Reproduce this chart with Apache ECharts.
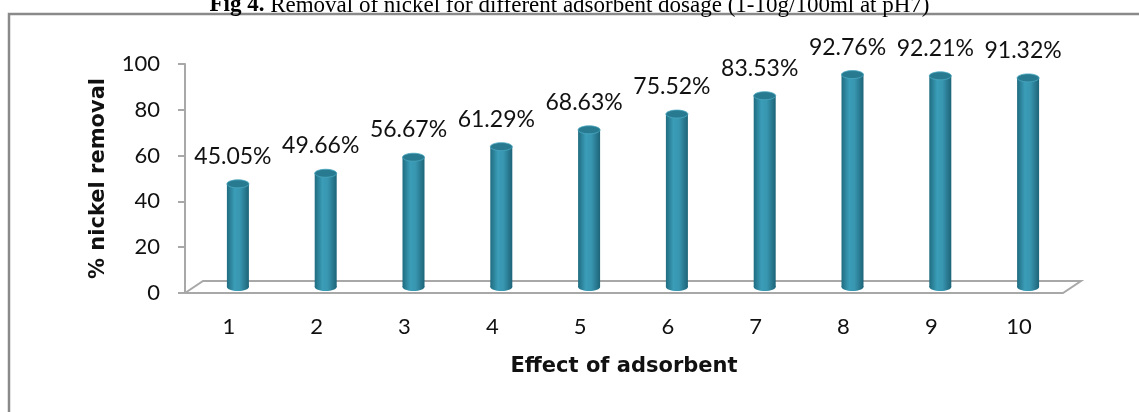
<!DOCTYPE html>
<html>
<head>
<meta charset="utf-8">
<script src="https://cdn.jsdelivr.net/npm/echarts@6/dist/echarts.min.js"></script>
<style>
  html, body { margin: 0; padding: 0; background: #fff; }
  #chart { width: 1139px; height: 412px; }
</style>
</head>
<body>
<div id="chart"></div>
<script>
// Adsorbent dosage steps (g/100 ml) and the nickel removed at each step
const dosages = ['1', '2', '3', '4', '5', '6', '7', '8', '9', '10'];
const removal = [45.05, 49.66, 56.67, 61.29, 68.63, 75.52, 83.53, 92.76, 92.21, 91.32];
const yTicks = [0, 20, 40, 60, 80, 100];

const FONT = 'Lato, "Open Sans", sans-serif';
const BOLD_FONT = '"DejaVu Sans", Lato, sans-serif';
const DEPTH_X = 18, DEPTH_Y = 12;   // floor depth of the pseudo-3D plot area
const BAR_W = 22;

const chart = echarts.init(document.getElementById('chart'));

// Cylinder drawn at mid-depth of the floor
function renderCylinder(params, api) {
  const x = api.value(0);
  const v = api.value(1);
  const base = api.coord([x, 0]);
  const top = api.coord([x, v]);
  const dx = DEPTH_X / 2, dy = -DEPTH_Y / 2;
  const cx = base[0] + dx;
  const yb = base[1] + dy;
  const yt = top[1] + dy;
  const rx = BAR_W / 2, ry = 4;
  const body = new echarts.graphic.LinearGradient(0, 0, 1, 0, [
    { offset: 0, color: '#1f6c80' },
    { offset: 0.35, color: '#3b9db8' },
    { offset: 0.6, color: '#3896b0' },
    { offset: 1, color: '#1d6478' }
  ]);
  return {
    type: 'group',
    children: [
      { type: 'ellipse', shape: { cx: cx, cy: yb, rx: rx, ry: ry }, style: { fill: body } },
      { type: 'rect', shape: { x: cx - rx, y: yt, width: BAR_W, height: yb - yt }, style: { fill: body } },
      { type: 'ellipse', shape: { cx: cx, cy: yt, rx: rx, ry: ry }, style: { fill: '#287a90', stroke: '#4aa9c2', lineWidth: 0.8 } },
      {
        type: 'text',
        style: {
          text: v.toFixed(2) + '%',
          x: base[0] + 4,
          y: yt - 16,
          textAlign: 'center',
          textVerticalAlign: 'bottom',
          font: '23px ' + FONT,
          fill: '#111'
        }
      }
    ]
  };
}

// Floor parallelogram under the bars
function renderFloor(params) {
  const cs = params.coordSys;
  const x0 = cs.x, y0 = cs.y + cs.height, w = cs.width;
  return {
    type: 'polygon',
    shape: {
      points: [
        [x0, y0],
        [x0 + DEPTH_X, y0 - DEPTH_Y],
        [x0 + w + DEPTH_X, y0 - DEPTH_Y],
        [x0 + w, y0]
      ]
    },
    style: { fill: '#fff', stroke: '#a8a8a8', lineWidth: 2 }
  };
}

chart.setOption({
  animation: false,
  backgroundColor: '#fff',
  title: {
    text: '{b|Fig 4.} Removal of nickel for different adsorbent dosage (1-10g/100ml at pH7)',
    left: 'center',
    top: -11,
    textStyle: {
      fontFamily: '"Liberation Serif", "Times New Roman", serif',
      fontSize: 23,
      fontWeight: 'normal',
      color: '#000',
      rich: {
        b: { fontFamily: '"Liberation Serif", serif', fontSize: 23, fontWeight: 'bold', color: '#000' }
      }
    }
  },
  graphic: [
    {
      type: 'rect',
      shape: { x: 9, y: 14, width: 1200, height: 500 },
      style: { fill: 'none', stroke: '#8a8a8a', lineWidth: 2.5 },
      z: 0
    }
  ],
  grid: { left: 185, right: 76, top: 64, bottom: 119 },
  xAxis: {
    type: 'category',
    data: dosages,
    name: 'Effect of adsorbent',
    nameLocation: 'middle',
    nameGap: 63,
    nameTextStyle: { fontFamily: BOLD_FONT, fontSize: 21, fontWeight: 'bold', color: '#111' },
    axisLine: { show: false },
    axisTick: { show: false },
    axisLabel: { fontFamily: FONT, fontSize: 22, color: '#111', margin: 23 }
  },
  yAxis: {
    type: 'value',
    min: yTicks[0],
    max: yTicks[yTicks.length - 1],
    interval: 20,
    name: '% nickel removal',
    nameLocation: 'middle',
    nameGap: 76,
    nameTextStyle: { fontFamily: BOLD_FONT, fontSize: 21, fontWeight: 'bold', color: '#111' },
    axisLine: { show: true, lineStyle: { color: '#a8a8a8', width: 2 } },
    axisTick: { show: true, inside: false, length: 7, lineStyle: { color: '#a8a8a8', width: 2 } },
    axisLabel: { fontFamily: FONT, fontSize: 22, color: '#111', margin: 25 },
    splitLine: { show: false }
  },
  series: [
    {
      type: 'custom',
      renderItem: renderFloor,
      data: [[0, 0]],
      silent: true,
      z: 1
    },
    {
      type: 'custom',
      renderItem: renderCylinder,
      encode: { x: 0, y: 1 },
      data: dosages.map((d, i) => [i, removal[i]]),
      z: 3
    }
  ]
});
</script>
</body>
</html>
